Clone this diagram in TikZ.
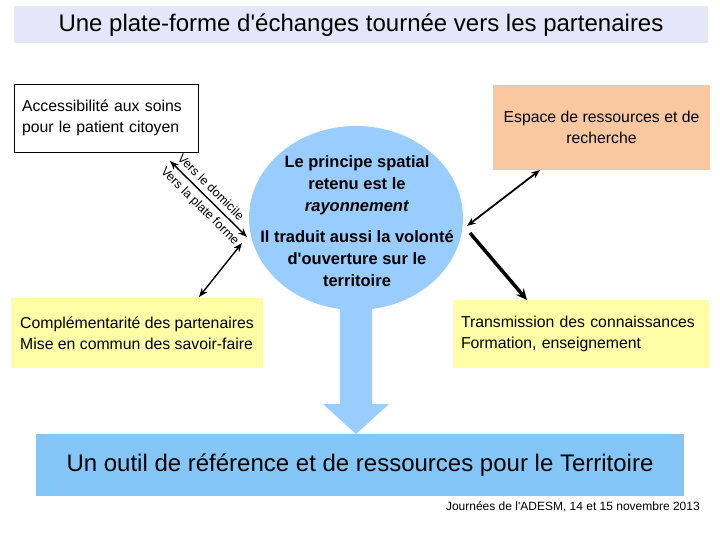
\documentclass[tikz,border=0pt]{standalone}
\usepackage{fontspec}
\setmainfont{Liberation Sans}
\usetikzlibrary{shapes.geometric,arrows.meta}

\definecolor{bandlilac}{RGB}{230,230,250}
\definecolor{skyblue}{RGB}{153,204,255}
\definecolor{deepsky}{RGB}{133,198,249}
\definecolor{peach}{RGB}{250,200,160}
\definecolor{paleyellow}{RGB}{255,255,168}

\begin{document}
\begin{tikzpicture}[x=1pt, y=-1pt,
    box/.style={rectangle, inner xsep=8pt, inner ysep=0pt, font=\fontsize{15.8}{21}\selectfont},
    link/.style={{Stealth[length=9pt,width=7pt]}-{Stealth[length=9pt,width=7pt]}, line width=1.4pt},
    tag/.style={font=\fontsize{12.5}{14}\selectfont, inner sep=0pt}]
    \useasboundingbox (0,0) rectangle (720,540);

    % Title
    \node (title) at (361,25) [fill=bandlilac, minimum width=694, minimum height=37,
        font=\fontsize{24}{28}\selectfont] {Une plate-forme d\textquotesingle échanges tournée vers les partenaires};

    % Boxes round the centre
    \node (soins) at (106,118) [box, draw, line width=0.8pt, text width=168, minimum height=68, align=left]
        {Accessibilité aux soins\\pour le patient citoyen};
    \node (espace) at (601.5,127.5) [box, fill=peach, minimum width=217, minimum height=85, align=center]
        {Espace de ressources et de\\recherche};
    \node (partenaires) at (137,333) [box, fill=paleyellow, minimum width=252, minimum height=70, align=left]
        {Complémentarité des partenaires\\Mise en commun des savoir-faire};
    \node (transmission) at (581,334) [box, fill=paleyellow, text width=240, minimum height=68, align=left]
        {Transmission des connaissances\\Formation, enseignement};

    % Big arrow down
    \fill[skyblue] (340,290) -- (372,290) -- (372,404) -- (389,404) -- (356,434) -- (323,404) -- (340,404) -- cycle;

    % Centre
    \node (centre) at (356,218) [ellipse, fill=skyblue, minimum width=214, minimum height=184, inner sep=0] {};
    \node (centretext) at (357,221) [align=center, inner sep=0, font=\bfseries\fontsize{16.5}{22}\selectfont]
        {Le principe spatial\\retenu est le\\\textit{rayonnement}\\[9pt]Il traduit aussi la volonté\\d\textquotesingle ouverture sur le\\territoire};

    % Bottom band
    \node (outil) at (360,465) [fill=deepsky, minimum width=648, minimum height=62,
        font=\fontsize{24}{28}\selectfont] {Un outil de référence et de ressources pour le Territoire};
    \node (date) at (700,507) [anchor=east, inner sep=0, font=\fontsize{12}{14}\selectfont]
        {Journées de l\textquotesingle ADESM, 14 et 15 novembre 2013};

    % Arrows
    \coordinate (dom1) at (170,161);
    \coordinate (dom2) at (247,237);
    \coordinate (pf1) at (242,243);
    \coordinate (pf2) at (199,297);
    \coordinate (res1) at (540,170);
    \coordinate (res2) at (467,226);
    \coordinate (tr1) at (470,233);
    \coordinate (tr2) at (527,300);
    \draw[link] (dom1) -- node[tag, sloped, above=5pt, pos=0.44] {Vers le domicile}
        node[tag, sloped, below=5pt, pos=0.49] {Vers la plate forme} (dom2);
    \draw[link] (pf1) -- (pf2);
    \draw[link, line width=1.8pt] (res1) -- (res2);
    \draw[-{Stealth[length=11pt,width=10pt]}, line width=3.5pt] (tr1) -- (tr2);
\end{tikzpicture}
\end{document}
